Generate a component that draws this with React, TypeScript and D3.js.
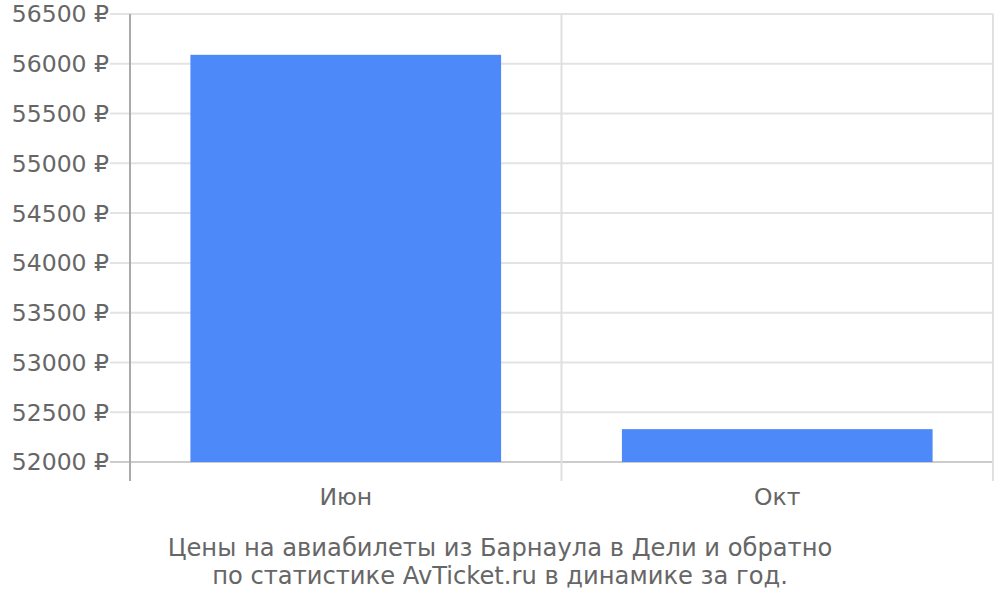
import { useEffect, useRef } from "react";
import * as d3 from "d3";

const months = ["Июн", "Окт"];
const prices = [56090, 52330];
const yTicks = [52000, 52500, 53000, 53500, 54000, 54500, 55000, 55500, 56000, 56500];
const titleLines = [
  "Цены на авиабилеты из Барнаула в Дели и обратно",
  "по статистике AvTicket.ru в динамике за год.",
];

const App = () => {
  const ref = useRef<SVGSVGElement | null>(null);

  useEffect(() => {
    document.body.style.margin = "0";
    drawChart();
  }, []);

  const drawChart = () => {
    const width = 1000;
    const height = 600;
    const margin = { top: 14, right: 7, bottom: 138, left: 130 };
    const svg = d3.select(ref.current);
    svg.selectAll("*").remove();

    const font = "'DejaVu Sans', sans-serif";
    const textColor = "#666";

    const xScale = d3
      .scaleBand()
      .domain(months)
      .range([margin.left, width - margin.right])
      .paddingInner(0)
      .paddingOuter(0);

    const yScale = d3
      .scaleLinear()
      .domain([52000, 56500])
      .range([height - margin.bottom, margin.top]);

    const bottom = height - margin.bottom;

    // 가로 그리드
    svg
      .append("g")
      .selectAll("line")
      .data(yTicks)
      .join("line")
      .attr("x1", margin.left - 20)
      .attr("x2", width - margin.right)
      .attr("y1", (d) => yScale(d))
      .attr("y2", (d) => yScale(d))
      .attr("stroke", (d) => (d === 52000 ? "#ccc" : "#e3e3e3"))
      .attr("stroke-width", 2);

    // 세로 구분선
    const bounds = [...months.map((m) => xScale(m) as number), width - margin.right];
    svg
      .append("g")
      .selectAll("line")
      .data(bounds.slice(1))
      .join("line")
      .attr("x1", (d) => d)
      .attr("x2", (d) => d)
      .attr("y1", margin.top)
      .attr("y2", bottom + 19)
      .attr("stroke", "#e0e0e0")
      .attr("stroke-width", 2);

    // 바
    const barW = xScale.bandwidth() * 0.72;
    svg
      .append("g")
      .selectAll("rect")
      .data(prices)
      .join("rect")
      .attr("x", (_, i) => (xScale(months[i]) as number) + (xScale.bandwidth() - barW) / 2)
      .attr("width", barW)
      .attr("y", (d) => yScale(d))
      .attr("height", (d) => bottom - yScale(d))
      .attr("fill", "#4d89f9");

    // Y 축선
    svg
      .append("line")
      .attr("x1", margin.left)
      .attr("x2", margin.left)
      .attr("y1", margin.top)
      .attr("y2", bottom + 19)
      .attr("stroke", "#aaa")
      .attr("stroke-width", 2);

    // Y 라벨
    svg
      .append("g")
      .selectAll("text")
      .data(yTicks)
      .join("text")
      .attr("x", margin.left - 21)
      .attr("y", (d) => yScale(d))
      .attr("dy", "0.36em")
      .attr("text-anchor", "end")
      .attr("font-family", font)
      .attr("font-size", 23.5)
      .attr("fill", textColor)
      .text((d) => `${d} ₽`);

    // X 라벨
    svg
      .append("g")
      .selectAll("text")
      .data(months)
      .join("text")
      .attr("x", (d) => (xScale(d) as number) + xScale.bandwidth() / 2)
      .attr("y", bottom + 43)
      .attr("text-anchor", "middle")
      .attr("font-family", font)
      .attr("font-size", 23.5)
      .attr("fill", textColor)
      .text((d) => d);

    // 제목
    svg
      .append("g")
      .selectAll("text")
      .data(titleLines)
      .join("text")
      .attr("x", 500)
      .attr("y", (_, i) => 556 + i * 28)
      .attr("text-anchor", "middle")
      .attr("font-family", font)
      .attr("font-size", 24.2)
      .attr("fill", textColor)
      .text((d) => d);
  };

  return (
    <div style={{ width: 1000, height: 600 }}>
      <svg ref={ref} width={1000} height={600} style={{ display: "block" }} />
    </div>
  );
};

export default App;
